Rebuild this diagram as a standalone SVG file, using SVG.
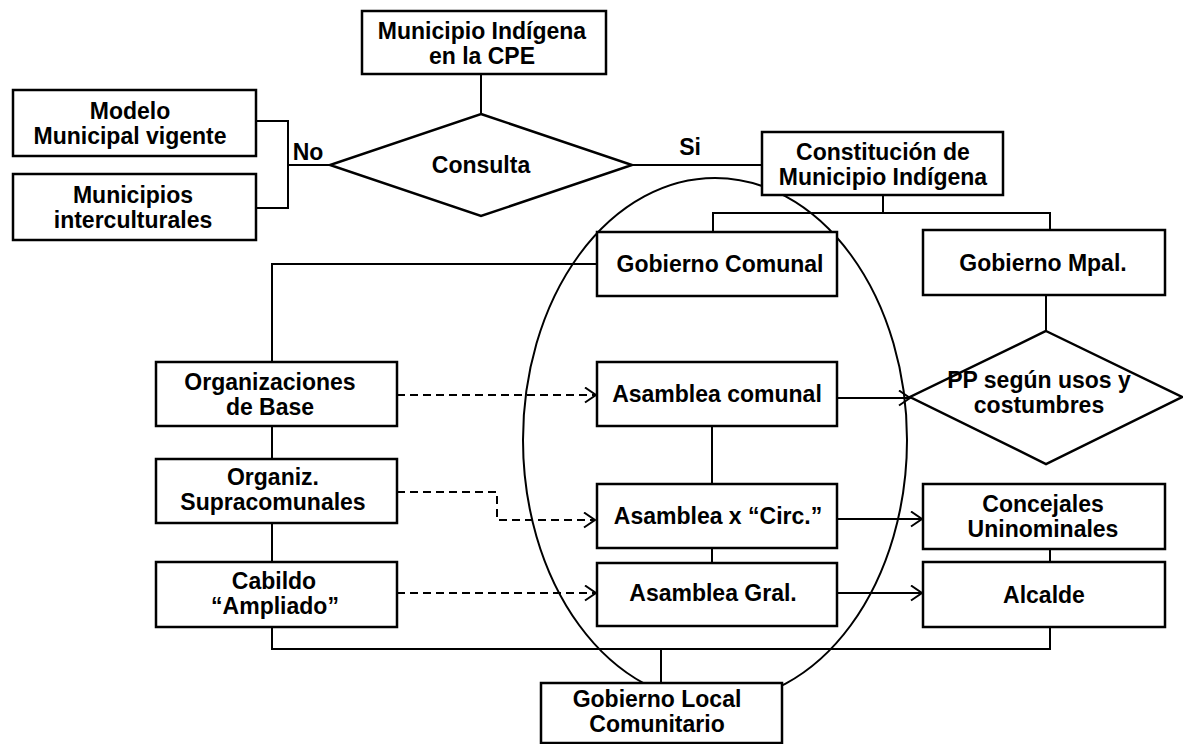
<svg xmlns="http://www.w3.org/2000/svg" width="1183" height="744" viewBox="0 0 1183 744">
<style>
.box{fill:#fff;stroke:#000;stroke-width:2.5}
.t{font-family:"Liberation Sans",Arial,sans-serif;font-weight:bold;font-size:23px;fill:#000;text-anchor:middle}
.ln{fill:none;stroke:#000;stroke-width:2}
.dash{fill:none;stroke:#000;stroke-width:2;stroke-dasharray:8 5}
</style>
<defs>
<marker id="ah" markerUnits="userSpaceOnUse" markerWidth="14" markerHeight="18" refX="12" refY="8" orient="auto">
<path d="M1,0.5 L12,8 L1,15.5" fill="none" stroke="#000" stroke-width="2"/>
</marker>
</defs>
<rect width="1183" height="744" fill="#fff"/>
<g id="ellipse"><ellipse cx="715" cy="440" rx="192" ry="262" fill="none" stroke="#000" stroke-width="2"/></g>

<g id="n-cpe"><rect class="box" x="362" y="11" width="244" height="63"/><text class="t" x="482" y="39">Municipio Indígena</text><text class="t" x="482" y="64">en la CPE</text></g>
<g id="n-consulta"><polygon class="box" points="481,114 632,165 481,216 330,165"/><text class="t" x="481" y="173">Consulta</text></g>
<g id="n-modelo"><rect class="box" x="13" y="90" width="243" height="66"/><text class="t" x="130" y="119">Modelo</text><text class="t" x="130" y="144">Municipal vigente</text></g>
<g id="n-intercult"><rect class="box" x="13" y="174" width="243" height="66"/><text class="t" x="133" y="203">Municipios</text><text class="t" x="133" y="228">interculturales</text></g>
<g id="n-constitucion"><rect class="box" x="762" y="132" width="241" height="63"/><text class="t" x="883" y="160">Constitución de</text><text class="t" x="883" y="185">Municipio Indígena</text></g>
<g id="n-gobcomunal"><rect class="box" x="597" y="232" width="240" height="64"/><text class="t" x="720" y="272">Gobierno Comunal</text></g>
<g id="n-gobmpal"><rect class="box" x="923" y="230" width="242" height="65"/><text class="t" x="1043" y="271">Gobierno Mpal.</text></g>
<g id="n-orgbase"><rect class="box" x="156" y="362" width="241" height="64"/><text class="t" x="270" y="390">Organizaciones</text><text class="t" x="270" y="415">de Base</text></g>
<g id="n-supra"><rect class="box" x="156" y="459" width="241" height="64"/><text class="t" x="273" y="485">Organiz.</text><text class="t" x="273" y="510">Supracomunales</text></g>
<g id="n-cabildo"><rect class="box" x="156" y="562" width="241" height="65"/><text class="t" x="274" y="589">Cabildo</text><text class="t" x="275" y="614">“Ampliado”</text></g>
<g id="n-asamcomunal"><rect class="box" x="597" y="362" width="240" height="64"/><text class="t" x="717" y="402">Asamblea comunal</text></g>
<g id="n-asamcirc"><rect class="box" x="597" y="484" width="240" height="64"/><text class="t" x="718" y="524">Asamblea x “Circ.”</text></g>
<g id="n-asamgral"><rect class="box" x="597" y="563" width="240" height="63"/><text class="t" x="713" y="601">Asamblea Gral.</text></g>
<g id="n-pp"><polygon class="box" points="1046,331 1182,397 1046,464 910,397"/><text class="t" x="1039" y="388">PP según usos y</text><text class="t" x="1039" y="413">costumbres</text></g>
<g id="n-concejales"><rect class="box" x="923" y="484" width="242" height="65"/><text class="t" x="1043" y="512">Concejales</text><text class="t" x="1043" y="537">Uninominales</text></g>
<g id="n-alcalde"><rect class="box" x="923" y="562" width="242" height="65"/><text class="t" x="1044" y="603">Alcalde</text></g>
<g id="n-gobloc"><rect class="box" x="541" y="683" width="241" height="60"/><text class="t" x="657" y="707">Gobierno Local</text><text class="t" x="657" y="732">Comunitario</text></g>

<g id="connectors">
<path class="ln" d="M481,74 V114"/>
<path class="ln" d="M256,121 H288 V208 H256 M288,165 H330"/>
<path class="ln" d="M632,165 H762"/>
<path class="ln" d="M883,195 V213 M713,232 V213 H1050 V230"/>
<path class="ln" d="M1046,295 V331"/>
<path class="ln" d="M597,264 H272 V362"/>
<path class="ln" d="M272,426 V459"/>
<path class="ln" d="M272,523 V562"/>
<path class="ln" d="M272,627 V649 H1050 V627"/>
<path class="ln" d="M661,649 V683"/>
<path class="ln" d="M712,426 V484"/>
<path class="ln" d="M712,548 V563"/>
<path class="ln" d="M1050,549 V562"/>
<path class="ln" d="M838,398 H910" marker-end="url(#ah)"/>
<path class="ln" d="M838,519 H922" marker-end="url(#ah)"/>
<path class="ln" d="M838,593 H922" marker-end="url(#ah)"/>
<path class="dash" d="M397,395 H596" marker-end="url(#ah)"/>
<path class="dash" d="M397,492 H497 V520 H595" marker-end="url(#ah)"/>
<path class="dash" d="M397,593 H596" marker-end="url(#ah)"/>
</g>
<g id="labels"><text class="t" x="308" y="160">No</text><text class="t" x="690" y="155">Si</text></g>
</svg>
